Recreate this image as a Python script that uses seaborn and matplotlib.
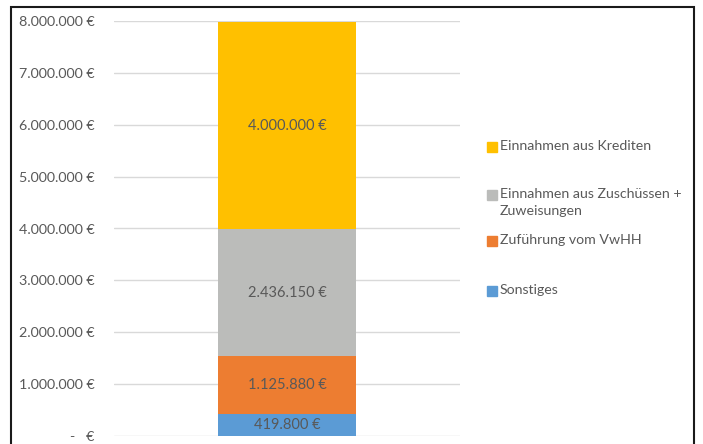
import numpy as np
import pandas as pd
import matplotlib
matplotlib.use("Agg")
import matplotlib.pyplot as plt
import seaborn as sns
from matplotlib.patches import Rectangle

# bottom to top
categories = ["Sonstiges", "Zuführung vom VwHH",
              "Einnahmen aus Zuschüssen +\nZuweisungen", "Einnahmen aus Krediten"]
values = [419800, 1125880, 2436150, 4000000]
colors = ["#5B9BD5", "#ED7D31", "#BBBCBA", "#FFC000"]
y_ticks = [0, 1000000, 2000000, 3000000, 4000000, 5000000, 6000000, 7000000, 8000000]

TEXT = "#595959"


def euro(v):
    if v == 0:
        return "-   €"
    return f"{v:,.0f}".replace(",", ".") + " €"


sns.set_theme(style="white")
plt.rcParams["font.family"] = ["Lato", "DejaVu Sans"]

fig = plt.figure(figsize=(7.03, 4.44), dpi=100)
ax = fig.add_axes([114 / 703, 8 / 444, 346 / 703, 415 / 444])

df = pd.DataFrame({"cat": categories, "value": values})
df["top"] = np.cumsum(df["value"])
df["x"] = "Gesamt"

# stacked bar: draw cumulative totals from the top down
for i in range(len(df) - 1, -1, -1):
    sns.barplot(data=df.iloc[[i]], x="x", y="top", color=colors[i],
                width=0.4, saturation=1, linewidth=0, ax=ax, zorder=3)

bottoms = df["top"] - df["value"]
for v, b in zip(df["value"], bottoms):
    ax.text(0, b + v / 2, euro(v), ha="center", va="center",
            color=TEXT, fontsize=10.5, zorder=4)

ax.set_xlim(-0.5, 0.5)
ax.set_ylim(0, 8000000)
ax.set_yticks(y_ticks)
ax.set_yticklabels([euro(t) for t in y_ticks], color=TEXT, fontsize=10.3)
ax.tick_params(axis="y", length=0, pad=14)
ax.set_xticks([])
ax.set_xlabel("")
ax.set_ylabel("")
for s in ax.spines.values():
    s.set_visible(False)
ax.yaxis.grid(True, color="#D9D9D9", linewidth=1)
ax.set_axisbelow(True)

# legend, top entry first as in Excel
leg_y = [147, 195, 241, 291]
for (cat, col), y in zip(reversed(list(zip(categories, colors))), leg_y):
    fig.patches.append(Rectangle((487 / 703, (444 - y - 5) / 444), 10 / 703, 10 / 444,
                                 transform=fig.transFigure, color=col))
    fig.text(500 / 703, (444 - y + 7) / 444, cat, ha="left", va="top",
             color=TEXT, fontsize=10.2, linespacing=1.5)

# chart border
fig.patches.append(Rectangle((10.5 / 703, -0.05), 683.5 / 703, (444 - 7) / 444 + 0.05,
                             transform=fig.transFigure, fill=False,
                             edgecolor="#1a1a1a", linewidth=1.5))

fig.savefig("out.png", dpi=100)
